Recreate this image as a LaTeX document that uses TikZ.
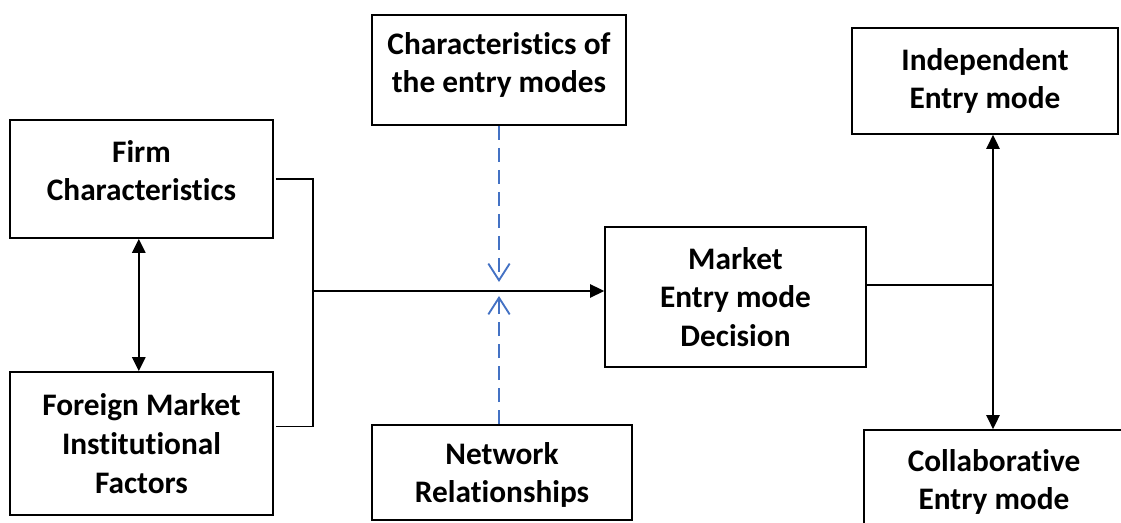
\documentclass[tikz,border=0pt]{standalone}
\usepackage{fontspec}
\setmainfont[Ligatures=NoCommon]{Carlito}
\usetikzlibrary{arrows.meta}
\definecolor{dashblue}{RGB}{68,114,196}

\begin{document}
\begin{tikzpicture}[x=0.75pt,y=-0.75pt,
    every node/.style = {draw, line width=1.3pt, align=center,
    font=\fontsize{23.5}{29}\selectfont\bfseries, inner sep=0pt},
    link/.style={line width=1.3pt},
    solidtip/.style={-{Triangle[length=10.5pt,width=10pt]}},
    bothtip/.style={{Triangle[length=10.5pt,width=10pt]}-{Triangle[length=10.5pt,width=10pt]}},
    blueline/.style={draw=dashblue, line width=1.4pt, dash pattern=on 10.5pt off 6pt,
    -{Straight Barb[length=12.5pt,width=16pt,line width=1.4pt]}}]
    \useasboundingbox (0,0) rectangle (1121,523);
    \node[minimum width=263*0.75pt, minimum height=118*0.75pt, text depth=12.5pt] (firm) at (141.5,179) {Firm\\Characteristics};
    \node[minimum width=263*0.75pt, minimum height=143*0.75pt] (foreign) at (141.5,443.5) {Foreign Market\\Institutional\\Factors};
    \node[minimum width=254*0.75pt, minimum height=110*0.75pt, text depth=11pt] (modes) at (499,70) {Characteristics of\\the entry modes};
    \node[minimum width=260*0.75pt, minimum height=95*0.75pt, text depth=0pt] (network) at (502,472.5) {Network\\Relationships};
    \node[minimum width=261*0.75pt, minimum height=140*0.75pt] (market) at (735.5,297) {Market\\Entry mode\\Decision};
    \node[minimum width=266*0.75pt, minimum height=106*0.75pt] (indep) at (985,81) {Independent\\Entry mode};
    \node[minimum width=260*0.75pt, minimum height=104*0.75pt] (collab) at (994,482) {Collaborative\\Entry mode};
    \coordinate (join) at (313,291);
    \coordinate (split) at (993,285);
    \coordinate (tipa) at (499,282);
    \coordinate (tipb) at (499,296);
    \draw[link] ([xshift=1.5pt]firm.east) -| (join) |- ([xshift=1.5pt,yshift=12.75pt]foreign.east);
    \draw[link,solidtip] (join) -- (join -| market.west);
    \draw[link,bothtip] ([xshift=-2pt]firm.south) -- ([xshift=-2pt]foreign.north);
    \draw[link] ([yshift=9pt]market.east) -- (split);
    \draw[link,bothtip] (split |- indep.south) -- (split |- collab.north);
    \draw[blueline] (modes.south) -- (tipa);
    \draw[blueline] (tipb |- network.north) -- (tipb);
\end{tikzpicture}
\end{document}
